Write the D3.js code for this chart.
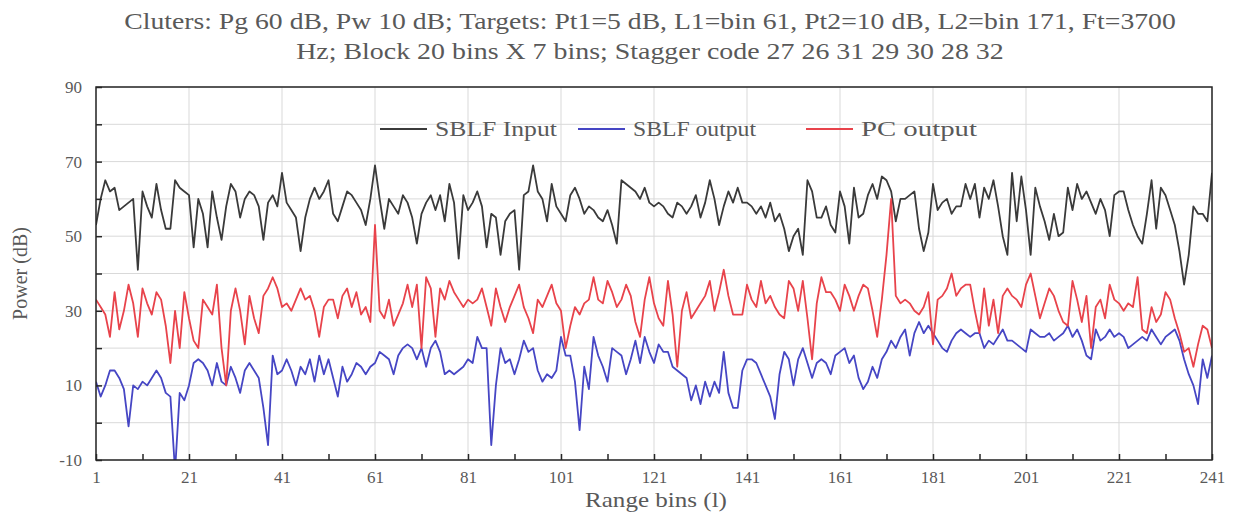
<!DOCTYPE html>
<html>
<head>
<meta charset="utf-8">
<script src="https://cdn.jsdelivr.net/npm/d3@7"></script>
<style>
  body { margin: 0; background: #fff; }
  svg text { font-family: "Liberation Serif", "Times New Roman", serif; fill: #595959; }
</style>
</head>
<body>
<div id="chart"></div>
<script>
// Data (power in dB per range bin 1..241)
const sblfInput = [
  53, 60, 65, 62, 63, 57, 58, 59, 60, 41,
  62, 58, 55, 64, 57, 52, 52, 65, 63, 62,
  61, 47, 60, 56, 47, 62, 55, 49, 58, 64,
  62, 55, 60, 62, 61, 58, 49, 59, 61, 58,
  67, 59, 57, 55, 46, 55, 60, 63, 60, 62,
  65, 56, 54, 58, 62, 61, 59, 57, 53, 60,
  69, 60, 52, 60, 58, 56, 61, 59, 55, 48,
  56, 59, 61, 57, 61, 54, 64, 59, 44, 61,
  57, 59, 62, 58, 47, 56, 55, 45, 54, 56,
  57, 41, 61, 62, 69, 62, 60, 54, 64, 58,
  56, 54, 61, 63, 60, 56, 58, 57, 55, 54,
  57, 53, 48, 65, 64, 63, 62, 60, 63, 59,
  58, 59, 58, 56, 55, 59, 58, 56, 58, 61,
  55, 59, 65, 60, 53, 58, 62, 59, 63, 59,
  59, 58, 56, 58, 55, 59, 54, 56, 52, 46,
  50, 52, 45, 65, 62, 55, 55, 58, 53, 51,
  62, 58, 48, 63, 55, 56, 61, 64, 60, 66,
  65, 62, 54, 60, 60, 61, 62, 52, 46, 51,
  64, 57, 59, 60, 56, 58, 58, 64, 60, 64,
  55, 63, 60, 65, 58, 50, 45, 67, 54, 66,
  57, 45, 63, 58, 54, 49, 56, 50, 51, 63,
  57, 64, 60, 62, 59, 56, 60, 57, 50, 61,
  62, 62, 57, 53, 50, 48, 56, 65, 52, 63,
  61, 57, 53, 46, 37, 45, 58, 56, 56, 54,
  67
];

const sblfOutput = [
  11, 7, 10, 14, 14, 12, 9, -1, 10, 9,
  11, 10, 12, 14, 12, 8, 7, -13, 8, 6,
  10, 16, 17, 16, 14, 10, 16, 11, 10, 15,
  12, 8, 14, 16, 14, 12, 4, -6, 18, 13,
  14, 17, 14, 10, 15, 13, 17, 11, 18, 13,
  17, 12, 7, 15, 11, 13, 16, 15, 13, 15,
  16, 19, 18, 17, 13, 18, 20, 21, 20, 17,
  20, 15, 20, 22, 19, 13, 14, 13, 14, 15,
  17, 16, 23, 20, 20, -6, 10, 20, 16, 17,
  13, 17, 22, 19, 20, 14, 11, 13, 12, 14,
  23, 18, 18, 11, -2, 15, 9, 23, 18, 15,
  11, 20, 19, 18, 13, 17, 22, 16, 23, 19,
  16, 21, 19, 19, 15, 14, 13, 12, 6, 10,
  5, 11, 7, 11, 8, 19, 8, 4, 4, 14,
  17, 17, 16, 13, 10, 7, 1, 13, 19, 17,
  10, 17, 20, 16, 12, 16, 17, 16, 13, 18,
  19, 20, 16, 18, 12, 9, 11, 15, 12, 17,
  19, 22, 20, 23, 25, 18, 24, 27, 24, 26,
  24, 22, 20, 19, 22, 24, 25, 24, 23, 24,
  24, 20, 22, 21, 23, 25, 22, 22, 21, 20,
  19, 25, 24, 23, 23, 24, 22, 23, 24, 26,
  23, 25, 22, 18, 17, 25, 22, 23, 25, 23,
  24, 23, 20, 21, 22, 23, 22, 25, 23, 21,
  23, 24, 25, 22, 17, 13, 10, 5, 17, 12,
  18
];

const pcOutput = [
  33, 31, 29, 23, 35, 25, 30, 37, 32, 23,
  36, 32, 29, 35, 33, 26, 16, 30, 20, 35,
  28, 22, 20, 33, 31, 29, 37, 20, 10, 30,
  36, 30, 21, 34, 28, 24, 34, 36, 39, 36,
  31, 32, 30, 33, 36, 33, 34, 30, 23, 31,
  33, 33, 28, 34, 36, 31, 35, 29, 31, 27,
  53, 30, 28, 33, 26, 29, 32, 37, 31, 37,
  20, 39, 36, 23, 36, 33, 38, 35, 33, 31,
  33, 32, 33, 36, 31, 26, 36, 31, 27, 31,
  34, 37, 31, 28, 24, 33, 31, 34, 37, 32,
  30, 20, 26, 31, 29, 32, 33, 39, 33, 32,
  38, 35, 31, 33, 37, 34, 27, 23, 33, 39,
  32, 28, 26, 38, 29, 15, 30, 35, 28, 30,
  32, 34, 38, 30, 35, 41, 34, 29, 29, 29,
  37, 33, 31, 38, 32, 34, 31, 29, 28, 38,
  36, 30, 38, 28, 17, 32, 39, 35, 35, 33,
  30, 37, 34, 30, 34, 37, 36, 30, 23, 33,
  45, 60, 34, 32, 33, 32, 30, 29, 31, 35,
  21, 33, 34, 36, 40, 34, 36, 37, 37, 30,
  24, 36, 26, 33, 24, 34, 36, 34, 33, 31,
  37, 40, 34, 28, 32, 36, 34, 30, 27, 26,
  38, 33, 27, 34, 20, 31, 33, 28, 37, 33,
  32, 30, 32, 31, 39, 25, 24, 31, 27, 29,
  35, 33, 28, 24, 19, 20, 15, 21, 26, 25,
  20
];

const seriesNames = ['SBLF Input', 'SBLF output', 'PC output'];
const seriesColors = ['#3a3a3a', '#4646c4', '#e8434b'];
const xTickValues = d3.range(1, 242, 20);
const xMinorTicks = d3.range(1, 242, 10);
const yTickValues = [-10, 10, 30, 50, 70, 90];
const yGridValues = d3.range(-10, 91, 10);
const titleLines = [
  'Cluters: Pg 60 dB, Pw 10 dB; Targets: Pt1=5 dB, L1=bin 61, Pt2=10 dB, L2=bin 171, Ft=3700',
  'Hz; Block 20 bins X 7 bins; Stagger code 27 26 31 29 30 28 32'
];

const W = 1235, H = 516;
const plot = {left: 96, right: 1212, top: 87, bottom: 460};

const svg = d3.select('#chart').append('svg')
  .attr('width', W).attr('height', H);

const x = d3.scaleLinear().domain([1, 241]).range([plot.left, plot.right]);
const y = d3.scaleLinear().domain([-10, 90]).range([plot.bottom, plot.top]);

// stretch a text horizontally so it spans `width` px (the reference type is wide)
function stretch(sel, px, py, width) {
  sel.attr('x', 0).attr('y', 0);
  const s = width / sel.node().getComputedTextLength();
  sel.attr('transform', `translate(${px},${py}) scale(${s},1)`);
}

// grid
svg.append('g').selectAll('line').data(yGridValues).join('line')
  .attr('x1', plot.left).attr('x2', plot.right)
  .attr('y1', d => y(d)).attr('y2', d => y(d))
  .attr('stroke', '#d9d9d9').attr('stroke-width', 1);
svg.append('g').selectAll('line').data(xTickValues).join('line')
  .attr('x1', d => x(d)).attr('x2', d => x(d))
  .attr('y1', plot.top).attr('y2', plot.bottom)
  .attr('stroke', '#d9d9d9').attr('stroke-width', 1);

// series
svg.append('clipPath').attr('id', 'clip').append('rect')
  .attr('x', plot.left).attr('y', plot.top)
  .attr('width', plot.right - plot.left).attr('height', plot.bottom - plot.top);

const series = [sblfInput, sblfOutput, pcOutput];
const line = d3.line().x((d, i) => x(i + 1)).y(d => y(d));
svg.append('g').attr('clip-path', 'url(#clip)')
  .selectAll('path').data(series).join('path')
  .attr('d', line)
  .attr('fill', 'none')
  .attr('stroke', (d, i) => seriesColors[i])
  .attr('stroke-width', 1.8)
  .attr('stroke-linejoin', 'round');

// frame
svg.append('rect')
  .attr('x', plot.left).attr('y', plot.top)
  .attr('width', plot.right - plot.left).attr('height', plot.bottom - plot.top)
  .attr('fill', 'none').attr('stroke', '#262626').attr('stroke-width', 1.5);

// axes (inner ticks)
const xAxis = d3.axisBottom(x).tickValues(xMinorTicks).tickSizeInner(-6).tickSizeOuter(0)
  .tickFormat(d => xTickValues.includes(d) ? d : '');
const gx = svg.append('g').attr('transform', `translate(0,${plot.bottom})`).call(xAxis);
gx.select('.domain').remove();
gx.selectAll('line').attr('stroke', '#262626').attr('stroke-width', 1.5);
gx.selectAll('text').attr('dy', '1.2em').style('font-size', '17px');

const yAxis = d3.axisLeft(y).tickValues(yGridValues).tickSizeInner(-6).tickSizeOuter(0)
  .tickFormat(d => yTickValues.includes(d) ? d : '');
const gy = svg.append('g').attr('transform', `translate(${plot.left},0)`).call(yAxis);
gy.select('.domain').remove();
gy.selectAll('line').attr('stroke', '#262626').attr('stroke-width', 1.5);
gy.selectAll('text').attr('x', -14).style('font-size', '17px');

// titles
const titleWidths = [1052, 708];
titleLines.forEach((t, i) => {
  const tx = svg.append('text')
    .attr('text-anchor', 'middle')
    .style('font-size', '23px')
    .text(t);
  stretch(tx, 650, 29 + i * 30, titleWidths[i]);
});

svg.append('text')
  .attr('transform', `translate(27,${(plot.top + plot.bottom) / 2}) rotate(-90)`)
  .attr('text-anchor', 'middle')
  .style('font-size', '20px')
  .text('Power (dB)');

stretch(svg.append('text')
  .attr('text-anchor', 'middle')
  .style('font-size', '20px')
  .text('Range bins (l)'), 656, 507, 142);

// legend
const legendX = [380, 578, 806];
const legendW = [122, 123, 116];
seriesNames.forEach((name, i) => {
  svg.append('line')
    .attr('x1', legendX[i]).attr('x2', legendX[i] + 47)
    .attr('y1', 129).attr('y2', 129)
    .attr('stroke', seriesColors[i]).attr('stroke-width', 1.8);
  stretch(svg.append('text').style('font-size', '20px').text(name),
    legendX[i] + 55, 136, legendW[i]);
});
</script>
</body>
</html>
